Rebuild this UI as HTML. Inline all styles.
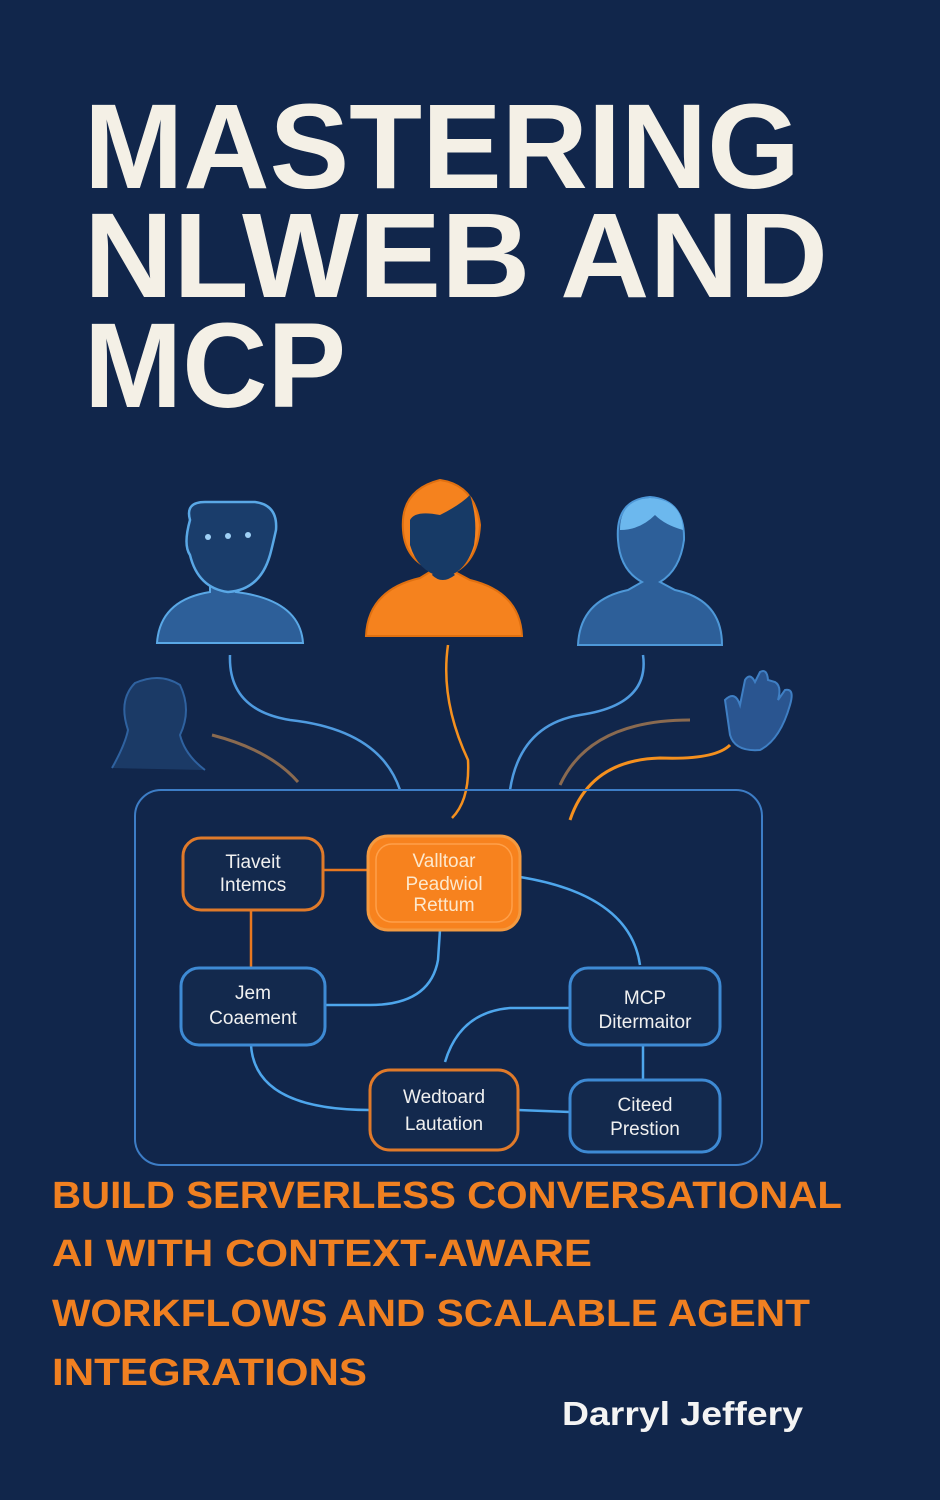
<!DOCTYPE html>
<html><head><meta charset="utf-8"><style>
html,body{margin:0;padding:0;background:#11264b;}
svg{display:block}
</style></head><body>
<svg width="940" height="1500" viewBox="0 0 940 1500" xmlns="http://www.w3.org/2000/svg">
<rect width="940" height="1500" fill="#11264b"/>
<g font-family="Liberation Sans, sans-serif" font-weight="bold" fill="#f4f0e6">
<text x="84" y="188" font-size="121" textLength="716" lengthAdjust="spacingAndGlyphs">MASTERING</text>
<text x="84" y="297" font-size="121" textLength="744" lengthAdjust="spacingAndGlyphs">NLWEB AND</text>
<text x="84" y="407" font-size="121" textLength="262" lengthAdjust="spacingAndGlyphs">MCP</text>
</g>
<!-- people -->
<g>
<path d="M157 643 Q160 600 210 592 L210 575 L236 575 L236 592 Q300 600 303 643 Z" fill="#2d5f99" stroke="#5aa8e6" stroke-width="2"/>
<path d="M190 520 Q185 502 205 502 L255 502 Q278 505 276 530 Q272 548 270 555 Q260 590 228 592 Q198 588 190 555 Q183 545 190 520 Z" fill="#1a3d6b" stroke="#5aa8e6" stroke-width="2.5"/>
<circle cx="208" cy="537" r="3" fill="#9fd0f5"/><circle cx="228" cy="536" r="3" fill="#9fd0f5"/><circle cx="248" cy="535" r="3" fill="#9fd0f5"/>
<path d="M366 636 Q368 590 420 578 L433 570 Q405 560 403 530 Q400 490 440 480 Q475 485 480 525 Q478 560 455 572 L470 580 Q520 592 522 636 Z" fill="#f5821e" stroke="#e07010" stroke-width="2"/>
<path d="M410 520 Q415 510 440 515 Q460 505 470 495 Q478 520 474 545 Q465 575 442 577 Q418 572 410 545 Z" fill="#173a66"/>
<path d="M432 575 Q442 585 455 575 L450 570 Q442 578 435 570 Z" fill="#173a66"/>
<path d="M578 645 Q580 600 628 590 L642 582 Q620 570 618 540 Q615 500 650 497 Q685 500 684 540 Q680 570 660 582 L675 590 Q722 600 722 645 Z" fill="#2d5f99" stroke="#4e98d8" stroke-width="2"/>
<path d="M620 530 Q620 500 650 498 Q682 500 683 530 Q665 525 655 515 Q640 530 620 530 Z" fill="#6cb8ee"/>
<path d="M112 768 Q125 745 128 730 Q118 700 135 683 Q160 672 180 685 Q192 710 180 735 Q185 755 205 770" fill="#1b3a66" stroke="#2f62a0" stroke-width="2"/>
<path d="M725 700 Q735 690 740 705 L745 680 Q750 672 755 682 L760 672 Q767 668 768 680 L775 682 Q782 686 778 700 L785 690 Q795 688 790 705 Q780 740 760 750 Q735 752 730 735 Z" fill="#2a5590" stroke="#3f7fc4" stroke-width="2"/>
</g>
<!-- connectors top -->
<g fill="none" stroke-width="2.5">
<path d="M230 655 Q228 710 290 720 Q380 730 400 790" stroke="#4f9be0"/>
<path d="M643 655 Q650 705 580 715 Q520 725 510 790" stroke="#4f9be0"/>
<path d="M448 645 Q440 700 468 760 Q470 800 452 818" stroke="#f5901e"/>
<path d="M212 735 Q270 750 298 782" stroke="#8a6a50" stroke-width="3"/>
<path d="M560 785 Q590 720 690 720" stroke="#8a6a50" stroke-width="3"/>
<path d="M570 820 Q590 760 660 758 Q715 760 730 745" stroke="#f5901e" stroke-width="3"/>
</g>
<rect x="135" y="790" width="627" height="375" rx="26" fill="none" stroke="#3d7dc6" stroke-width="2"/>
<!-- inner connectors -->
<g fill="none" stroke-width="2.5">
<line x1="323" y1="870" x2="368" y2="870" stroke="#e87820"/>
<line x1="251" y1="910" x2="251" y2="968" stroke="#e87820"/>
<path d="M440 930 L438 960 Q430 1005 370 1005 L325 1005" stroke="#4ea6ec"/>
<path d="M520 877 Q630 895 640 965" stroke="#4ea6ec"/>
<path d="M570 1008 L510 1008 Q460 1012 445 1062" stroke="#4ea6ec"/>
<path d="M251 1045 Q255 1110 370 1110" stroke="#4ea6ec"/>
<line x1="518" y1="1110" x2="570" y2="1112" stroke="#4ea6ec"/>
<line x1="643" y1="1045" x2="643" y2="1080" stroke="#4ea6ec"/>
</g>
<g font-family="Liberation Sans, sans-serif" font-size="19" text-anchor="middle" fill="#f0f0f0">
<rect x="183" y="838" width="140" height="72" rx="18" fill="#13294d" stroke="#e07a2a" stroke-width="3"/>
<text x="253" y="868">Tiaveit</text><text x="253" y="891">Intemcs</text>
<rect x="368" y="836" width="152" height="94" rx="20" fill="#f7821e" stroke="#f49a40" stroke-width="3"/>
<rect x="376" y="844" width="136" height="78" rx="16" fill="none" stroke="#ffa04a" stroke-width="1.5"/>
<g fill="#fde8cc"><text x="444" y="867">Valltoar</text><text x="444" y="890">Peadwiol</text><text x="444" y="911">Rettum</text></g>
<rect x="181" y="968" width="144" height="77" rx="18" fill="#13294d" stroke="#3e8ad4" stroke-width="3"/>
<text x="253" y="999">Jem</text><text x="253" y="1024">Coaement</text>
<rect x="570" y="968" width="150" height="77" rx="18" fill="#13294d" stroke="#3e8ad4" stroke-width="3"/>
<text x="645" y="1004">MCP</text><text x="645" y="1028">Ditermaitor</text>
<rect x="370" y="1070" width="148" height="80" rx="20" fill="#13294d" stroke="#e07a2a" stroke-width="3"/>
<text x="444" y="1103">Wedtoard</text><text x="444" y="1130">Lautation</text>
<rect x="570" y="1080" width="150" height="72" rx="18" fill="#13294d" stroke="#3e8ad4" stroke-width="3"/>
<text x="645" y="1111">Citeed</text><text x="645" y="1135">Prestion</text>
</g>
<g font-family="Liberation Sans, sans-serif" font-weight="bold" fill="#f08021" font-size="38">
<text x="52" y="1208" textLength="790" lengthAdjust="spacingAndGlyphs">BUILD SERVERLESS CONVERSATIONAL</text>
<text x="52" y="1266" textLength="540" lengthAdjust="spacingAndGlyphs">AI WITH CONTEXT-AWARE</text>
<text x="52" y="1326" textLength="758" lengthAdjust="spacingAndGlyphs">WORKFLOWS AND SCALABLE AGENT</text>
<text x="52" y="1385" textLength="315" lengthAdjust="spacingAndGlyphs">INTEGRATIONS</text>
</g>
<text x="562" y="1425" font-family="Liberation Sans, sans-serif" font-weight="bold" font-size="33" fill="#f4f4f4" textLength="241" lengthAdjust="spacingAndGlyphs">Darryl Jeffery</text>
</svg>
</body></html>
